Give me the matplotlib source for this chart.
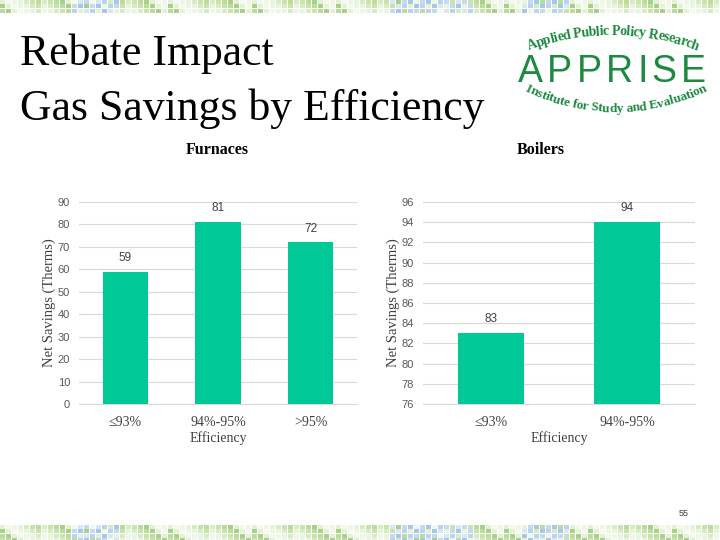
import numpy as np
import matplotlib
matplotlib.use("Agg")
import matplotlib.pyplot as plt
from matplotlib.patches import Rectangle
from matplotlib.font_manager import FontProperties
from matplotlib.textpath import TextToPath

# ---------------- data ----------------
furnace_cats = ["≤93%", "94%-95%", ">95%"]
furnace_vals = [59, 81, 72]
furnace_ticks = list(range(0, 91, 10))

boiler_cats = ["≤93%", "94%-95%"]
boiler_vals = [83, 94]
boiler_ticks = list(range(76, 97, 2))

title_lines = ["Rebate Impact", "Gas Savings by Efficiency"]
ylabel_text = "Net Savings (Therms)"
xlabel_text = "Efficiency"
page_number = "55"

BAR = "#00C896"
GRID = "#d9d9d9"
SERIF = ["Liberation Serif", "DejaVu Serif"]
SANS = ["Liberation Sans", "DejaVu Sans"]
LOGO_GREEN = "#1d8a40"

fig = plt.figure(figsize=(7.2, 5.4), dpi=100)
fig.patch.set_facecolor("white")

# ---------------- background / decoration (pixel coords) ----------------
bg = fig.add_axes([0, 0, 1, 1], zorder=0)
bg.set_xlim(0, 720)
bg.set_ylim(540, 0)
bg.axis("off")

palette = ["#e4f1d3", "#c9e3ab", "#eef7e6", "#a8d08a", "#d8ecc4", "#f3f9ec", "#bcdc9c", "#e9f4dd"]
blue_pal = ["#c3dbf0", "#a6c8e8", "#d7e7f5", "#b9d4ee"]
blue_ranges = [(70, 115), (385, 470), (520, 565)]
tw, th = 6, 4.4
for (y0, y1) in [(0, 13), (525, 540)]:
    ny = int(np.ceil((y1 - y0) / th))
    for i in range(int(720 / tw) + 1):
        x = i * tw
        blue = any(a <= x <= b for a, b in blue_ranges)
        for j in range(ny):
            pal = blue_pal if (blue and (i + j) % 3 != 0) else palette
            c = pal[(i * 5 + j * 3 + (i // 7)) % len(pal)]
            bg.add_patch(Rectangle((x, y0 + j * th), tw - 0.6, th - 0.6,
                                   facecolor=c, edgecolor="none"))

# title
bg.text(20, 65, title_lines[0], fontsize=31.5, family=SERIF, color="black",
        ha="left", va="baseline")
bg.text(20, 120, title_lines[1], fontsize=31.5, family=SERIF, color="black",
        ha="left", va="baseline")

# logo
ttp = TextToPath()


def text_w(s, fp):
    return ttp.get_text_width_height_descent(s, fp, ismath=False)[0] * 100 / 72


def arc_text(s, cx, cy, R, fs, span, upper=True):
    fp = FontProperties(family="Liberation Serif", weight="bold", size=fs)
    base = text_w("xx", fp)
    cum = [0.0] + [text_w("x" + s[:i + 1] + "x", fp) - base for i in range(len(s))]
    L = cum[-1]
    k = span / L
    for i, ch in enumerate(s):
        if ch == " ":
            continue
        c = (cum[i] + cum[i + 1]) / 2
        sarc = (c - L / 2) * k
        th_ = sarc / R
        if upper:
            x = cx + R * np.sin(th_)
            y = cy - R * np.cos(th_)
            rot = -np.degrees(th_)
        else:
            x = cx + R * np.sin(th_)
            y = cy + R * np.cos(th_)
            rot = np.degrees(th_)
        bg.text(x, y, ch, fontproperties=fp, color=LOGO_GREEN, ha="center",
                va="baseline", rotation=rot, rotation_mode="anchor")


def spread_text(s, x0, x1, y, fs):
    fp = FontProperties(family="Liberation Sans", size=fs)
    base = text_w("II", fp)
    cum = [0.0] + [text_w("I" + s[:i + 1] + "I", fp) - base for i in range(len(s))]
    L = cum[-1]
    extra = ((x1 - x0) - L) / (len(s) - 1)
    for i, ch in enumerate(s):
        c = x0 + (cum[i] + cum[i + 1]) / 2 + i * extra
        bg.text(c, y, ch, fontproperties=fp, color=LOGO_GREEN, ha="center", va="baseline")


arc_text("Applied Public Policy Research", 613, 271, 236, 10, 171, upper=True)
arc_text("Institute for Study and Evaluation", 616, -92, 204, 9.5, 189, upper=False)
spread_text("APPRISE", 518, 706, 82, 27)

# page number
bg.text(684, 513, page_number, fontsize=6.5, family=SANS, color="#404040",
        ha="center", va="center")

# chart titles
bg.text(217, 150, "Furnaces", fontsize=11.5, family=SERIF, weight="bold",
        ha="center", va="center", color="black")
bg.text(541, 150, "Boilers", fontsize=11.5, family=SERIF, weight="bold",
        ha="center", va="center", color="black")


# ---------------- charts ----------------
def style_axes(ax, cats, ticks, lab_x):
    ax.set_facecolor("none")
    for sp in ["top", "right", "left"]:
        ax.spines[sp].set_visible(False)
    ax.spines["bottom"].set_color(GRID)
    ax.spines["bottom"].set_linewidth(0.8)
    ax.set_yticks(ticks)
    ax.yaxis.grid(True, color=GRID, lw=0.8)
    ax.set_axisbelow(True)
    ax.tick_params(axis="y", length=0, labelsize=8, labelcolor="#595959", pad=6.5)
    ax.tick_params(axis="x", length=0, pad=8.5)
    ax.set_xticks(range(len(cats)))
    ax.set_xticklabels(cats, fontsize=10, family=SERIF, color="#404040")
    for t in ax.get_yticklabels():
        t.set_family(SANS)
    ax.set_ylabel(ylabel_text, fontsize=10.5, family=SERIF, color="#404040")
    ax.yaxis.set_label_coords(lab_x, 0.5)
    ax.set_xlabel(xlabel_text, fontsize=10, family=SERIF, color="#404040", labelpad=2)


ax1 = fig.add_axes([79 / 720, 1 - 404 / 540, 278 / 720, 202 / 540], zorder=2)
x1 = np.arange(len(furnace_cats))
ax1.bar(x1, furnace_vals, width=0.49, color=BAR, zorder=3)
ax1.set_xlim(-0.5, len(furnace_cats) - 0.5)
ax1.set_ylim(furnace_ticks[0], furnace_ticks[-1])
style_axes(ax1, furnace_cats, furnace_ticks, -0.084)
for xi, v in zip(x1, furnace_vals):
    ax1.annotate(f"{v}", (xi, v), xytext=(0, 10), textcoords="offset points",
                 ha="center", va="center", fontsize=8.5, family=SANS, color="#404040")

ax2 = fig.add_axes([423 / 720, 1 - 404 / 540, 272 / 720, 202 / 540], zorder=2)
x2 = np.arange(len(boiler_cats))
ax2.bar(x2, boiler_vals, width=0.49, color=BAR, zorder=3)
ax2.set_xlim(-0.5, len(boiler_cats) - 0.5)
ax2.set_ylim(boiler_ticks[0], boiler_ticks[-1])
style_axes(ax2, boiler_cats, boiler_ticks, -0.084)
for xi, v in zip(x2, boiler_vals):
    ax2.annotate(f"{v}", (xi, v), xytext=(0, 10), textcoords="offset points",
                 ha="center", va="center", fontsize=8.5, family=SANS, color="#404040")

fig.savefig("out.png", dpi=100, facecolor="white")
